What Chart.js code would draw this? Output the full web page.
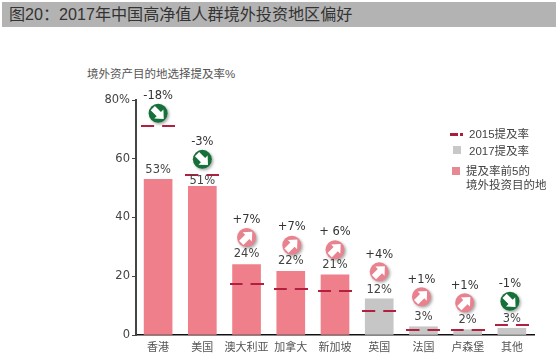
<!DOCTYPE html>
<html>
<head>
<meta charset="utf-8">
<script src="https://cdn.jsdelivr.net/npm/chart.js@4"></script>
<style>
  body { margin: 0; background: #fff; width: 558px; height: 360px; overflow: hidden; position: relative; font-family: "Liberation Sans", "Noto Sans CJK SC", sans-serif; }
  #myChart { position: absolute; left: 0; top: 0; }
  .txt { position: absolute; white-space: nowrap; color: #444; font-size: 11.5px; line-height: 14px; }
  #heading { position: absolute; left: 2px; top: 2px; width: 554px; height: 25px; background: #b3b3b3; color: #333; font-size: 16.1px; line-height: 25px; text-indent: 7px; }
  .swatch { position: absolute; width: 8px; height: 8px; }
</style>
</head>
<body>
<div id="heading">图20：2017年中国高净值人群境外投资地区偏好</div>
<div class="txt" style="left:87px;top:67px;color:#555">境外资产目的地选择提及率%</div>
<canvas id="myChart" width="558" height="360"></canvas>

<!-- legend -->
<div class="swatch" style="left:450px;top:133px;width:8px;height:3px;background:#a81e3c"></div>
<div class="swatch" style="left:460px;top:133px;width:3px;height:3px;background:#a81e3c"></div>
<div class="txt" style="left:469px;top:127px">2015提及率</div>
<div class="swatch" style="left:453px;top:146px;background:#c8c8c8"></div>
<div class="txt" style="left:469px;top:144px">2017提及率</div>
<div class="swatch" style="left:452px;top:167px;background:#e58a95"></div>
<div class="txt" style="left:466px;top:164px">提及率前5的</div>
<div class="txt" style="left:466px;top:178px">境外投资目的地</div>

<script>
//Chart data
const categories = ["香港", "美国", "澳大利亚", "加拿大", "新加坡", "英国", "法国", "卢森堡", "其他"];
const rate2017 = [53, 50.6, 24, 21.7, 20.5, 12.3, 2.8, 1.8, 2.3];
const rate2015 = [71.3, 54.4, 17.4, 15.5, 14.9, 8.3, 1.7, 1.6, 3.4];
const valueLabels = ["53%", "51%", "24%", "22%", "21%", "12%", "3%", "2%", "3%"];
const changeLabels = ["-18%", "-3%", "+7%", "+7%", "+ 6%", "+4%", "+1%", "+1%", "-1%"];
const topFive = [true, true, true, true, true, false, false, false, false];
const yTicks = [0, 20, 40, 60, 80];

//Where the annotations sit, in pixels above the top of each bar
const valueGap = [9, 5, 10, 10, 10, 9, 10, 10, 9];
const badgeGap = [66, 27, 27, 26, 25, 27, 30, 27, 27];
const changeGap = [83, 44, 44, 44, 43, 44, 47, 44, 44];
const badgeShift = [0, 0, 0, 1, 0, 0, -2, -3, -2];

const PINK = "#ee7f8b";
const GREY = "#c6c6c6";
const DASH = "#b2203f";

//2015 marker: two short strokes side by side
const makeDash = () => {
    const c = document.createElement("canvas");
    c.width = 34;
    c.height = 2;
    const ctx = c.getContext("2d");
    ctx.fillStyle = DASH;
    ctx.fillRect(0, 0, 13, 2);
    ctx.fillRect(21, 0, 13, 2);
    return c;
};

const drawBadge = (ctx, x, y, up) => {
    ctx.save();
    ctx.shadowColor = "rgba(0,0,0,0.35)";
    ctx.shadowBlur = 3;
    ctx.shadowOffsetX = 1.5;
    ctx.shadowOffsetY = 1.5;
    ctx.fillStyle = up ? "#e8828f" : "#16703a";
    ctx.beginPath();
    ctx.arc(x, y, 9.5, 0, Math.PI * 2);
    ctx.fill();
    ctx.restore();

    //white block arrow, pointing up-right or down-right
    ctx.save();
    ctx.translate(x, y);
    ctx.rotate(up ? -Math.PI / 4 : Math.PI / 4);
    ctx.fillStyle = "#fff";
    ctx.beginPath();
    ctx.moveTo(-7.5, -3);
    ctx.lineTo(1, -3);
    ctx.lineTo(1, -6.5);
    ctx.lineTo(8, 0);
    ctx.lineTo(1, 6.5);
    ctx.lineTo(1, 3);
    ctx.lineTo(-7.5, 3);
    ctx.closePath();
    ctx.fill();
    ctx.restore();
};

//Value labels, arrow badges and change labels over each bar
const annotations = {
    id: "annotations",
    afterDatasetsDraw(chart) {
        const ctx = chart.ctx;
        const yScale = chart.scales.y;
        const xScale = chart.scales.x;
        ctx.save();
        ctx.textAlign = "center";
        ctx.textBaseline = "middle";
        ctx.font = '11.5px "DejaVu Sans"';
        categories.forEach((name, i) => {
            const x = xScale.getPixelForValue(i);
            const top = yScale.getPixelForValue(rate2017[i]);
            ctx.fillStyle = "#444";
            ctx.fillText(valueLabels[i], x, top - valueGap[i]);
            drawBadge(ctx, x + badgeShift[i], top - badgeGap[i], changeLabels[i][0] === "+");
            ctx.fillStyle = "#333";
            ctx.fillText(changeLabels[i], x + badgeShift[i], top - changeGap[i]);
        });
        ctx.restore();
    }
};

new Chart(document.getElementById("myChart"), {
    data: {
        labels: categories,
        datasets: [
            {
                type: "line",
                label: "2015提及率",
                data: rate2015,
                showLine: false,
                pointStyle: makeDash(),
                order: 0
            },
            {
                type: "bar",
                label: "2017提及率",
                data: rate2017,
                backgroundColor: topFive.map(t => t ? PINK : GREY),
                barThickness: 28,
                order: 1
            }
        ]
    },
    options: {
        responsive: false,
        animation: false,
        events: [],
        layout: { padding: { top: 100, right: 24, left: 0, bottom: 0 } },
        plugins: { legend: { display: false }, title: { display: false }, tooltip: { enabled: false } },
        scales: {
            x: {
                grid: { display: false, drawTicks: false },
                border: { color: "#111", width: 1.5 },
                ticks: { color: "#555", padding: 5, maxRotation: 0, autoSkip: false, font: { family: '"Noto Sans CJK SC"', size: 11 } },
                afterFit(scale) { scale.height = 25; }
            },
            y: {
                min: 0,
                max: 80,
                grid: { drawOnChartArea: false, tickLength: 4, color: "#444" },
                border: { color: "#444", width: 2 },
                afterBuildTicks(scale) { scale.ticks = yTicks.map(v => ({ value: v })); },
                ticks: {
                    color: "#444",
                    padding: 2,
                    font: { family: '"DejaVu Sans"', size: 11.5 },
                    callback: v => v === 80 ? "80%" : String(v)
                },
                afterFit(scale) { scale.width = 136; }
            }
        }
    },
    plugins: [annotations]
});
</script>
</body>
</html>
